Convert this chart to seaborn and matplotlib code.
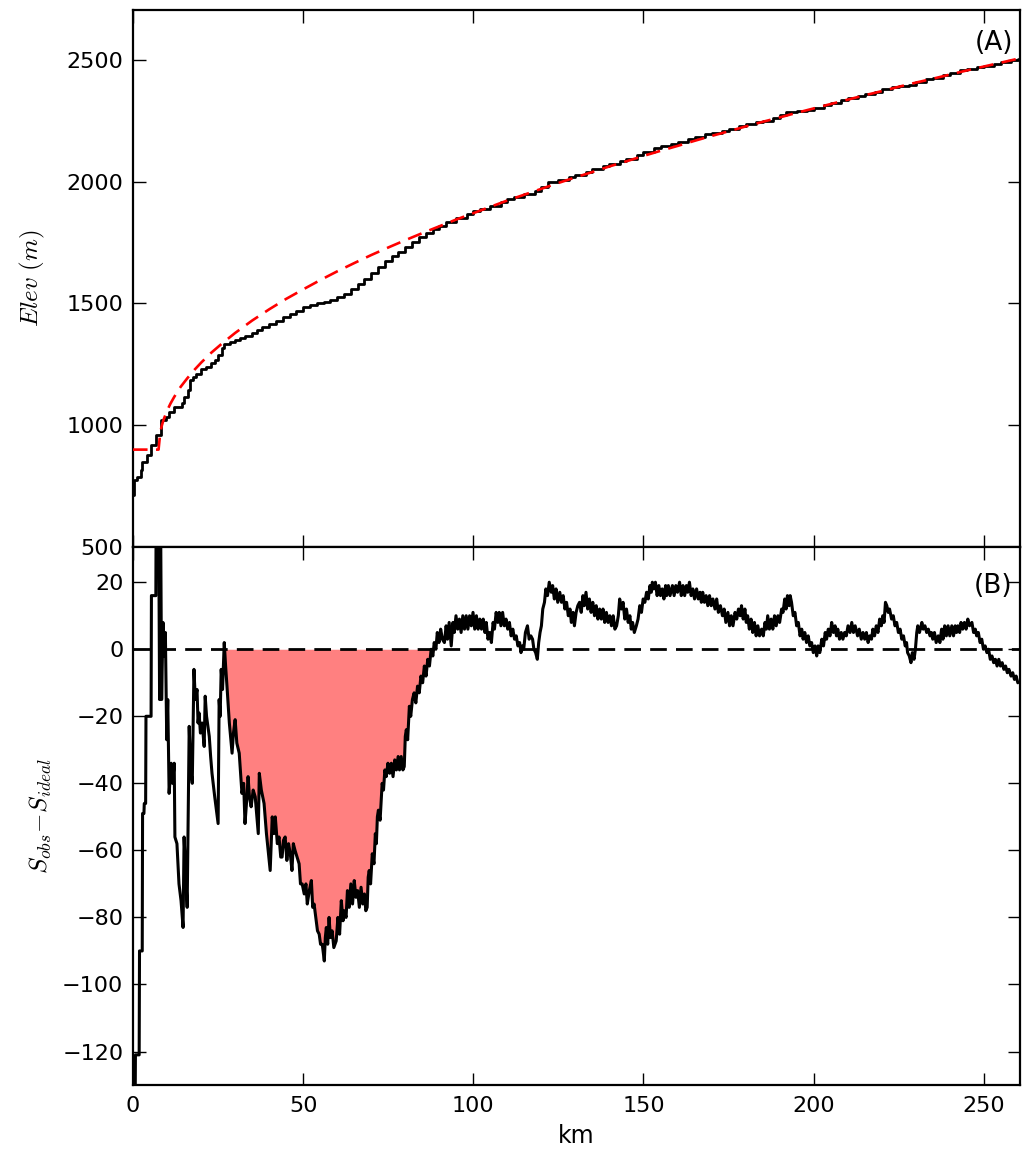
import numpy as np
import matplotlib
matplotlib.use("Agg")
import matplotlib.pyplot as plt
import seaborn as sns

# ---- Longitudinal profile (km, elevation in m) ----
obs_elev = [
    (0, 713), (0.3, 775), (1.2, 788), (2.3, 816), (2.6, 849), (4.1, 878), (5.3, 919),
    (6.8, 960), (8.2, 1022), (9.7, 1034), (10.6, 1055), (12.1, 1075), (14.4, 1092),
    (15.0, 1116), (16.2, 1145), (16.8, 1186), (17.6, 1200), (18.5, 1212), (20, 1230),
    (21.5, 1240), (23, 1255), (24, 1268), (25, 1290), (26, 1318), (26.8, 1335),
    (28.5, 1342), (30, 1352), (31.5, 1358), (33, 1366), (35, 1378), (36.5, 1390),
    (38, 1402), (40, 1416), (42, 1430), (44, 1444), (46, 1458), (48, 1470), (50, 1484),
    (52, 1494), (54, 1502), (56, 1508), (58, 1515), (60, 1525), (62, 1540), (64, 1560),
    (66, 1580), (68, 1600), (70, 1625), (72, 1650), (74, 1675), (76, 1695), (78, 1712),
    (80, 1730), (82, 1752), (84, 1772), (86, 1790), (88, 1805), (90, 1820), (92, 1835),
    (95, 1852), (98, 1868), (100, 1879), (102, 1890), (105, 1902), (108, 1915),
    (110, 1928), (112, 1938), (115, 1950), (118, 1963), (120, 1978), (122, 1997),
    (125, 2008), (128, 2018), (130, 2028), (133, 2042), (135, 2052), (138, 2064),
    (140, 2072), (143, 2085), (145, 2094), (148, 2110), (150, 2123), (153, 2137),
    (155, 2145), (158, 2157), (160, 2165), (163, 2177), (165, 2185), (168, 2195),
    (170, 2202), (173, 2210), (175, 2216), (178, 2228), (180, 2237), (183, 2245),
    (185, 2251), (188, 2263), (190, 2274), (192, 2286), (195, 2289), (198, 2296),
    (200, 2301), (203, 2315), (205, 2325), (208, 2335), (210, 2343), (213, 2352),
    (215, 2359), (218, 2370), (220, 2382), (223, 2390), (225, 2395), (228, 2398),
    (230, 2410), (233, 2420), (235, 2427), (238, 2437), (240, 2445), (243, 2457),
    (245, 2465), (248, 2470), (250, 2474), (253, 2484), (255, 2490), (258, 2498),
    (260, 2504),
]

ideal_elev = [
    (0, 900), (7.5, 900), (8, 971), (8.5, 1001), (9, 1024), (10, 1060), (11, 1089),
    (12, 1114), (13, 1137), (14, 1158), (16, 1194), (18, 1227), (20, 1257), (23, 1298),
    (26, 1334), (30, 1379), (35, 1430), (40, 1476), (45, 1519), (50, 1558), (55, 1596),
    (60, 1632), (65, 1666), (70, 1699), (75, 1730), (80, 1760), (85, 1789), (90, 1817),
    (95, 1845), (100, 1871), (105, 1897), (110, 1923), (115, 1947), (120, 1971),
    (125, 1995), (130, 2018), (135, 2040), (140, 2063), (145, 2084), (150, 2106),
    (155, 2127), (160, 2147), (165, 2168), (170, 2188), (175, 2207), (180, 2227),
    (185, 2246), (190, 2264), (195, 2283), (200, 2301), (205, 2319), (210, 2337),
    (215, 2355), (220, 2372), (225, 2390), (230, 2407), (235, 2423), (240, 2440),
    (245, 2457), (250, 2473), (255, 2489), (260, 2505),
]

# ---- S_obs - S_ideal (km, value), in stretches along the profile ----
anom_0_11 = [
    (0.0, -140), (0.6, -140), (0.7, -121), (1.8, -121), (1.9, -90), (2.7, -90),
    (2.8, -49), (3.2, -49), (3.3, -46), (3.7, -46), (3.8, -20), (5.3, -20), (5.4, 16),
    (6.7, 16), (6.8, 45), (7.5, 45), (7.8, -15), (8.1, 40), (8.4, -15), (8.8, 8),
    (9.2, -2), (9.5, 5), (9.9, -27), (10.2, -15), (10.6, -43),
]
anom_11_50 = [
    (11.2, -34), (11.6, -40), (12.1, -34), (12.3, -56), (12.9, -58), (13.5, -70),
    (14.1, -75), (14.7, -83), (15.0, -56), (15.4, -65), (15.9, -77), (16.2, -50),
    (16.5, -23), (16.9, -35), (17.4, -40), (17.7, -20), (17.9, -6), (18.3, -15),
    (18.8, -12), (19.1, -22), (19.4, -19), (19.8, -25), (20.3, -22), (20.9, -29),
    (21.2, -14), (21.6, -20), (22.4, -26), (22.8, -32), (23.2, -37), (24.0, -44),
    (25.0, -52), (25.3, -15), (25.6, -20), (25.9, -6), (26.3, -12), (26.8, 2),
    (27.2, -5), (27.6, -11), (28.3, -22), (29.1, -31), (29.5, -25), (30.0, -21),
    (30.5, -28), (31.2, -31), (32.0, -43), (32.5, -40), (32.9, -52), (33.4, -45),
    (33.8, -38), (34.2, -44), (34.7, -47), (35.3, -42), (35.9, -44), (36.4, -50),
    (36.8, -55), (37.1, -37), (37.7, -42), (38.5, -46), (39.2, -55), (40.3, -66),
    (40.9, -50), (41.4, -55), (41.8, -50), (42.4, -58), (42.9, -56), (43.4, -62),
    (43.8, -62), (44.2, -57), (44.7, -56), (45.2, -63), (45.7, -58), (46.2, -61),
    (46.7, -66), (47.1, -58), (47.6, -60), (48.2, -62), (48.8, -64), (49.2, -70),
    (49.7, -70),
]
anom_50_91 = [
    (50.3, -73), (50.8, -70), (51.2, -76), (51.8, -72), (52.4, -69), (52.8, -77),
    (53.2, -76), (53.7, -80), (54.2, -84), (54.7, -85), (55.1, -88), (55.6, -88),
    (56.2, -93), (56.5, -86), (56.8, -83), (57.2, -88), (57.6, -80), (58.0, -86),
    (58.5, -84), (59.0, -89), (59.7, -87), (60.2, -80), (60.7, -85), (61.2, -75),
    (61.7, -81), (62.1, -78), (62.6, -80), (63.0, -72), (63.5, -77), (64.0, -70),
    (64.5, -76), (65.0, -69), (65.5, -74), (66.0, -72), (66.5, -77), (67.0, -71),
    (67.5, -76), (68.0, -73), (68.4, -78), (68.8, -77), (69.1, -68), (69.4, -66),
    (69.8, -70), (70.3, -61), (70.8, -64), (71.2, -55), (71.5, -58), (71.8, -50),
    (72.1, -48), (72.6, -51), (73.2, -40), (73.6, -42), (74.0, -36), (74.4, -38),
    (74.9, -34), (75.4, -37), (75.9, -34), (76.4, -38), (76.9, -33), (77.4, -36),
    (77.9, -32), (78.3, -36), (78.8, -32), (79.3, -36), (79.7, -35), (80.0, -26),
    (80.3, -24), (80.7, -27), (81.2, -17), (81.6, -20), (82.1, -15), (82.6, -13),
    (83.1, -16), (83.6, -11), (84.1, -13), (84.6, -8), (85.1, -10), (85.6, -5),
    (86.1, -8), (86.6, -3), (87.1, -5), (87.6, 0), (88.1, -2), (88.5, 2), (89.0, 0),
    (89.4, 5), (89.9, 2), (90.4, 6), (90.9, 3),
]
anom_91_150 = [
    (91.5, 2), (92.0, 7), (92.4, 3), (92.9, 8), (93.5, 1), (94.0, 8), (94.4, 5),
    (94.9, 10), (95.4, 6), (95.9, 9), (96.4, 5), (96.9, 10), (97.4, 6), (97.9, 10),
    (98.4, 6), (98.9, 10), (99.4, 7), (99.9, 11), (100.4, 6), (100.9, 10), (101.4, 6),
    (101.9, 9), (102.4, 6), (102.9, 9), (103.4, 5), (103.8, 8), (104.3, 3), (104.8, 5),
    (105.3, 2), (105.8, 8), (106.2, 6), (106.7, 11), (107.2, 8), (107.6, 11),
    (108.1, 7), (108.6, 11), (109.1, 7), (109.6, 9), (110.1, 6), (110.6, 8), (111.1, 4),
    (111.6, 6), (112.1, 3), (112.6, 4), (113.1, 1), (113.6, 2), (114.0, -1), (114.4, 1),
    (114.8, 0), (115.3, 5), (115.9, 7), (116.4, 3), (116.9, 4), (117.4, 3), (117.8, 0),
    (118.3, -1), (118.8, -3), (119.2, 2), (119.6, 5), (120.0, 7), (120.4, 12),
    (120.9, 14), (121.3, 18), (121.8, 16), (122.3, 20), (122.9, 17), (123.3, 19),
    (123.8, 15), (124.3, 18), (124.8, 14), (125.4, 17), (125.9, 14), (126.4, 16),
    (126.9, 12), (127.4, 14), (127.9, 10), (128.4, 12), (128.8, 8), (129.3, 11),
    (129.7, 7), (130.2, 11), (130.7, 13), (131.2, 14), (131.7, 11), (132.2, 16),
    (132.6, 13), (133.1, 17), (133.6, 12), (134.1, 15), (134.6, 11), (135.1, 14),
    (135.6, 10), (136.1, 13), (136.6, 9), (137.1, 12), (137.6, 9), (138.1, 12),
    (138.6, 8), (139.1, 11), (139.6, 8), (140.1, 10), (140.6, 7), (141.1, 10),
    (141.6, 6), (142.1, 7), (142.6, 10), (143.0, 15), (143.5, 12), (144.0, 14),
    (144.5, 9), (145.0, 12), (145.5, 8), (146.0, 10), (146.4, 6), (146.8, 8),
    (147.3, 5), (147.9, 7), (148.4, 9), (148.9, 13), (149.4, 11), (149.9, 15),
]
anom_150_200 = [
    (150.4, 14), (150.9, 17), (151.4, 15), (151.9, 19), (152.3, 17), (152.6, 20),
    (153.0, 18), (153.5, 20), (154.0, 16), (154.5, 19), (155.0, 16), (155.5, 18),
    (156.0, 15), (156.5, 19), (156.8, 16), (157.3, 19), (157.8, 16), (158.5, 19),
    (159.0, 16), (159.5, 19), (160.0, 17), (160.6, 20), (161.1, 16), (161.6, 19),
    (162.1, 16), (162.6, 19), (163.0, 17), (163.5, 20), (164.0, 16), (164.5, 18),
    (165.0, 15), (165.6, 18), (166.1, 15), (166.6, 17), (167.0, 14), (167.4, 17),
    (167.9, 14), (168.4, 16), (168.9, 13), (169.4, 16), (169.9, 13), (170.4, 15),
    (171.0, 12), (171.5, 15), (172.0, 11), (172.6, 13), (173.2, 10), (173.7, 12),
    (174.2, 8), (174.8, 11), (175.3, 7), (175.8, 10), (176.3, 7), (176.9, 11),
    (177.4, 9), (177.9, 12), (178.4, 10), (178.8, 13), (179.3, 9), (179.8, 12),
    (180.2, 8), (180.6, 10), (181.1, 6), (181.6, 9), (182.1, 5), (182.6, 8), (183.1, 4),
    (183.6, 7), (184.1, 4), (184.7, 6), (185.2, 4), (185.7, 8), (186.1, 6), (186.5, 10),
    (187.0, 6), (187.5, 9), (188.0, 6), (188.5, 10), (189.0, 7), (189.5, 10), (190.0, 8),
    (190.6, 12), (191.0, 11), (191.5, 15), (191.9, 12), (192.3, 16), (192.8, 13),
    (193.1, 16), (193.5, 14), (194.0, 10), (194.5, 11), (195.0, 7), (195.5, 8),
    (196.0, 4), (196.5, 6), (196.9, 3), (197.4, 5), (197.9, 2), (198.4, 4), (198.9, 1),
    (199.4, 2), (199.9, -1),
]
anom_200_260 = [
    (200.4, 1), (200.9, -2), (201.3, 1), (201.8, -1), (202.4, 3), (202.9, 1), (203.4, 5),
    (203.8, 3), (204.3, 6), (204.8, 4), (205.3, 8), (205.8, 5), (206.3, 7), (206.7, 4),
    (207.1, 6), (207.6, 3), (208.1, 5), (208.6, 3), (209.1, 5), (209.6, 4), (210.1, 7),
    (210.7, 5), (211.2, 8), (211.7, 5), (212.2, 7), (212.9, 4), (213.4, 6), (214.0, 3),
    (214.5, 5), (215.0, 3), (215.5, 5), (216.0, 2), (216.5, 4), (217.0, 3), (217.4, 6),
    (217.9, 4), (218.4, 7), (218.9, 5), (219.4, 9), (219.9, 7), (220.3, 10), (220.7, 8),
    (221.1, 14), (221.5, 13), (221.9, 11), (222.3, 12), (222.9, 9), (223.4, 10),
    (223.9, 7), (224.4, 8), (224.9, 5), (225.4, 6), (225.9, 3), (226.4, 4), (226.9, 1),
    (227.3, 2), (227.6, -1), (228.1, -2), (228.6, -4), (229.0, -1), (229.5, -3),
    (229.9, 0), (230.3, 5), (230.6, 7), (231.1, 5), (231.8, 8), (232.2, 6), (232.7, 7),
    (233.2, 5), (233.7, 6), (234.2, 4), (234.6, 5), (235.0, 3), (235.5, 5), (236.0, 2),
    (236.6, 4), (237.1, 2), (237.6, 6), (238.0, 3), (238.5, 7), (239.0, 4), (239.5, 7),
    (240.0, 4), (240.6, 7), (241.1, 4), (241.6, 7), (242.0, 5), (242.4, 7), (242.9, 5),
    (243.3, 8), (243.8, 6), (244.3, 8), (244.8, 6), (245.3, 9), (245.8, 7), (246.5, 8),
    (247.0, 5), (247.5, 6), (247.9, 4), (248.4, 5), (248.9, 2), (249.4, 3), (249.9, 0),
    (250.4, 1), (250.9, -1), (251.4, 0), (251.9, -3), (252.4, -2), (252.9, -4),
    (253.4, -3), (253.9, -5), (254.4, -3), (254.9, -5), (255.4, -4), (255.9, -6),
    (256.4, -5), (256.9, -7), (257.4, -6), (258.0, -8), (258.5, -7), (259.0, -9),
    (259.5, -8), (260.0, -10),
]

# stretch of the profile shaded as a deficit
deficit_span = (26.8, 89.4)

obs_km, obs_m = np.array(obs_elev, dtype=float).T
ideal_km, ideal_m = np.array(ideal_elev, dtype=float).T
anom = np.array(anom_0_11 + anom_11_50 + anom_50_91 + anom_91_150
                + anom_150_200 + anom_200_260, dtype=float)
anom_km, anom_val = anom.T

sns.set_style("ticks")
plt.rcParams.update({
    "font.family": ["DejaVu Sans"],
    "mathtext.fontset": "cm",
    "text.color": "black",
    "axes.labelcolor": "black",
    "axes.edgecolor": "black",
    "axes.linewidth": 1.6,
    "xtick.direction": "in",
    "ytick.direction": "in",
    "xtick.top": True,
    "ytick.right": True,
    "xtick.major.size": 9,
    "ytick.major.size": 9,
    "xtick.major.width": 1.0,
    "ytick.major.width": 1.0,
    "xtick.major.pad": 8,
    "ytick.major.pad": 7,
    "xtick.color": "black",
    "ytick.color": "black",
    "xtick.labelsize": 16,
    "ytick.labelsize": 16,
})

fig = plt.figure(figsize=(10.25, 11.56), dpi=100)
ax_top = fig.add_axes([0.1298, 0.5268, 0.8652, 0.4645])
ax_bot = fig.add_axes([0.1298, 0.0614, 0.8652, 0.4654], sharex=ax_top)

# (A) observed profile and ideal profile
sns.lineplot(x=obs_km, y=obs_m, ax=ax_top, color="black", lw=2.0,
             drawstyle="steps-post", estimator=None, sort=False, zorder=3)
sns.lineplot(x=ideal_km, y=ideal_m, ax=ax_top, color="red", lw=1.9,
             estimator=None, sort=False, zorder=4)
ax_top.lines[-1].set_dashes((5.5, 3.2))
ax_top.set_ylim(500, 2705)
ax_top.set_yticks([500, 1000, 1500, 2000, 2500])
ax_top.set_ylabel(r"$Elev\ (m)$", fontsize=18, labelpad=14)
ax_top.tick_params(labelbottom=False)
ax_top.text(0.992, 0.962, "(A)", transform=ax_top.transAxes, ha="right",
            va="top", fontsize=19, color="black")

# (B) difference from the ideal profile
mask = (anom_km >= deficit_span[0]) & (anom_km <= deficit_span[1])
ax_bot.fill_between(anom_km, np.minimum(anom_val, 0), 0, where=mask,
                    color="#ff8080", lw=0, zorder=1)
ax_bot.axhline(0, color="black", lw=2.0, dashes=(6, 3.3), zorder=2)
sns.lineplot(x=anom_km, y=anom_val, ax=ax_bot, color="black", lw=2.2,
             estimator=None, sort=False, zorder=3)
ax_bot.set_ylim(-130, 30.5)
ax_bot.set_yticks(np.arange(-120, 21, 20))
ax_bot.set_xlim(0, 260.6)
ax_bot.set_xticks([0, 50, 100, 150, 200, 250])
ax_bot.set_xlabel("km", fontsize=17, labelpad=6)
ax_bot.set_ylabel(r"$S_{obs}\!-\!S_{ideal}$", fontsize=18, labelpad=6)
ax_bot.text(0.992, 0.952, "(B)", transform=ax_bot.transAxes, ha="right",
            va="top", fontsize=19, color="black")

for ax in (ax_top, ax_bot):
    for side in ("top", "right", "left", "bottom"):
        ax.spines[side].set_visible(True)
        ax.spines[side].set_color("black")

fig.savefig("out.png", dpi=100)
